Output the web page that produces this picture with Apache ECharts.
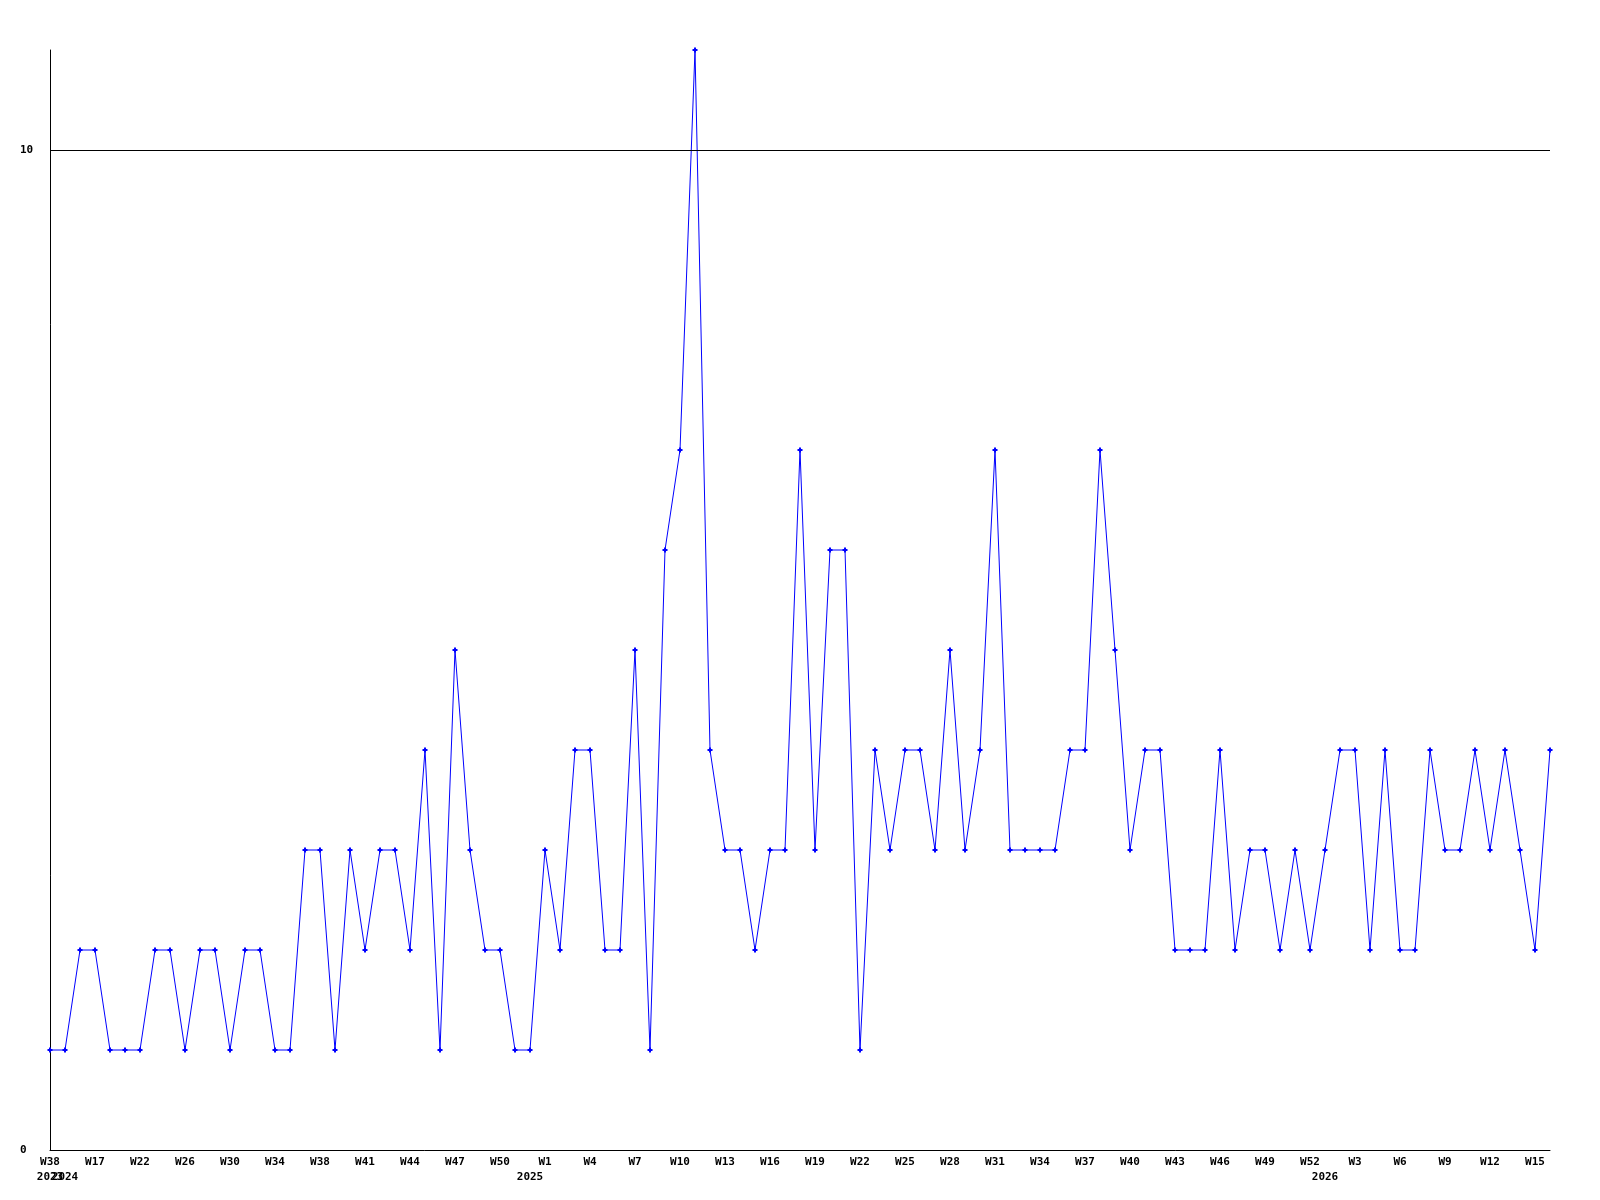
<!DOCTYPE html>
<html>
<head>
<meta charset="utf-8">
<script src="https://cdn.jsdelivr.net/npm/echarts@6/dist/echarts.min.js"></script>
<style>
  html, body { margin: 0; padding: 0; background: #fff; }
  #chart { width: 1600px; height: 1200px; }
</style>
</head>
<body>
<div id="chart"></div>
<script>
// week numbers of every data point, in order
const weeks = [
  38,
  15, 16, 17, 19, 20, 22, 23, 25, 26, 27, 29, 30, 31, 33, 34, 35, 37,
  38, 39, 40, 41, 42, 43, 44, 45, 46, 47, 48, 49, 50, 51, 52,
  1, 2, 3, 4, 5, 6, 7, 8, 9, 10, 11, 12, 13, 14, 15, 16, 17, 18, 19, 20,
  21, 22, 23, 24, 25, 26, 27, 28, 29, 30, 31, 32, 33, 34, 35, 36, 37, 38,
  39, 40, 41, 42, 43, 44, 45, 46, 47, 48, 49, 50, 51, 52,
  1, 2, 3, 4, 5, 6, 7, 8, 9, 10, 11, 12, 13, 14, 15, 16
]
// index where each year starts in weeks
const yearStart = [0, 1, 33, 85]
const yearNames = ['2023', '2024', '2025', '2026']
// where the year captions are printed
const yearLabelIdx = [0, 1, 32, 85]

// which points carry a week label
const weekLabelIdx = [0, 3, 6, 9, 12, 15, 18, 21, 24, 27, 30, 33, 36, 39, 42, 45, 48,
  51, 54, 57, 60, 63, 66, 69, 72, 75, 78, 81, 84, 87, 90, 93, 96, 99]

const counts = [
  1, 1, 2, 2, 1, 1, 1, 2, 2, 1, 2, 2, 1, 2, 2, 1, 1, 3, 3, 1,
  3, 2, 3, 3, 2, 4, 1, 5, 3, 2, 2, 1, 1, 3, 2, 4, 4, 2, 2, 5,
  1, 6, 7, 11, 4, 3, 3, 2, 3, 3, 7, 3, 6, 6, 1, 4, 3, 4, 4, 3,
  5, 3, 4, 7, 3, 3, 3, 3, 4, 4, 7, 5, 3, 4, 4, 2, 2, 2, 4, 2,
  3, 3, 2, 3, 2, 3, 4, 4, 2, 4, 2, 2, 4, 3, 3, 4, 3, 4, 3, 2,
  4
]

const categories = weeks.map((w, i) => {
  let y = 0
  yearStart.forEach((s, k) => { if (i >= s) y = k })
  return yearNames[y] + '-W' + w
})

const labelFont = {
  fontFamily: 'DejaVu Sans Mono',
  fontWeight: 'bold',
  fontSize: 11,
  color: '#000'
}

// the second year caption sits right next to the first one, so it gets its own axis
const crowdedYear = yearLabelIdx[1]

const chart = echarts.init(document.getElementById('chart'))
chart.setOption({
  animation: false,
  backgroundColor: '#fff',
  grid: { left: 50, right: 50, top: 50, bottom: 50 },
  xAxis: [
    {
      type: 'category',
      boundaryGap: false,
      data: categories,
      axisLine: { lineStyle: { color: '#000', width: 1 } },
      axisTick: { show: false },
      splitLine: { show: false },
      axisLabel: {
        ...labelFont,
        lineHeight: 15,
        margin: 5,
        showMinLabel: true,
        interval: (i) => i !== crowdedYear && (weekLabelIdx.includes(i) || yearLabelIdx.includes(i)),
        formatter: (value, i) => {
          const w = weekLabelIdx.includes(i) ? 'W' + weeks[i] : ''
          const k = yearLabelIdx.indexOf(i)
          return k >= 0 ? w + '\n' + yearNames[k] : w
        }
      }
    },
    {
      type: 'category',
      position: 'bottom',
      boundaryGap: false,
      data: categories,
      axisLine: { show: false },
      axisTick: { show: false },
      splitLine: { show: false },
      axisLabel: {
        ...labelFont,
        lineHeight: 15,
        margin: 5,
        interval: (i) => i === crowdedYear,
        formatter: (value, i) => '\n' + yearNames[yearLabelIdx.indexOf(i)]
      }
    }
  ],
  yAxis: {
    type: 'value',
    min: 0,
    max: 11,
    interval: 10,
    axisLine: { show: true, lineStyle: { color: '#000', width: 1 } },
    axisTick: { show: false },
    splitLine: { show: false },
    axisLabel: {
      ...labelFont,
      align: 'left',
      margin: 30,
      formatter: (v) => (v === 11 ? '' : String(v))
    }
  },
  series: [
    {
      type: 'line',
      xAxisIndex: 0,
      data: counts,
      color: '#0000ff',
      lineStyle: { color: '#0000ff', width: 1 },
      itemStyle: { color: '#0000ff' },
      symbol: 'path://M1.5,0H3.5V1.5H5V3.5H3.5V5H1.5V3.5H0V1.5H1.5Z',
      symbolSize: 5,
      showAllSymbol: true,
      markLine: {
        silent: true,
        symbol: 'none',
        label: { show: false },
        lineStyle: { color: '#000', width: 1, type: 'solid' },
        data: [{ yAxis: 10 }]
      }
    }
  ]
})
</script>
</body>
</html>
